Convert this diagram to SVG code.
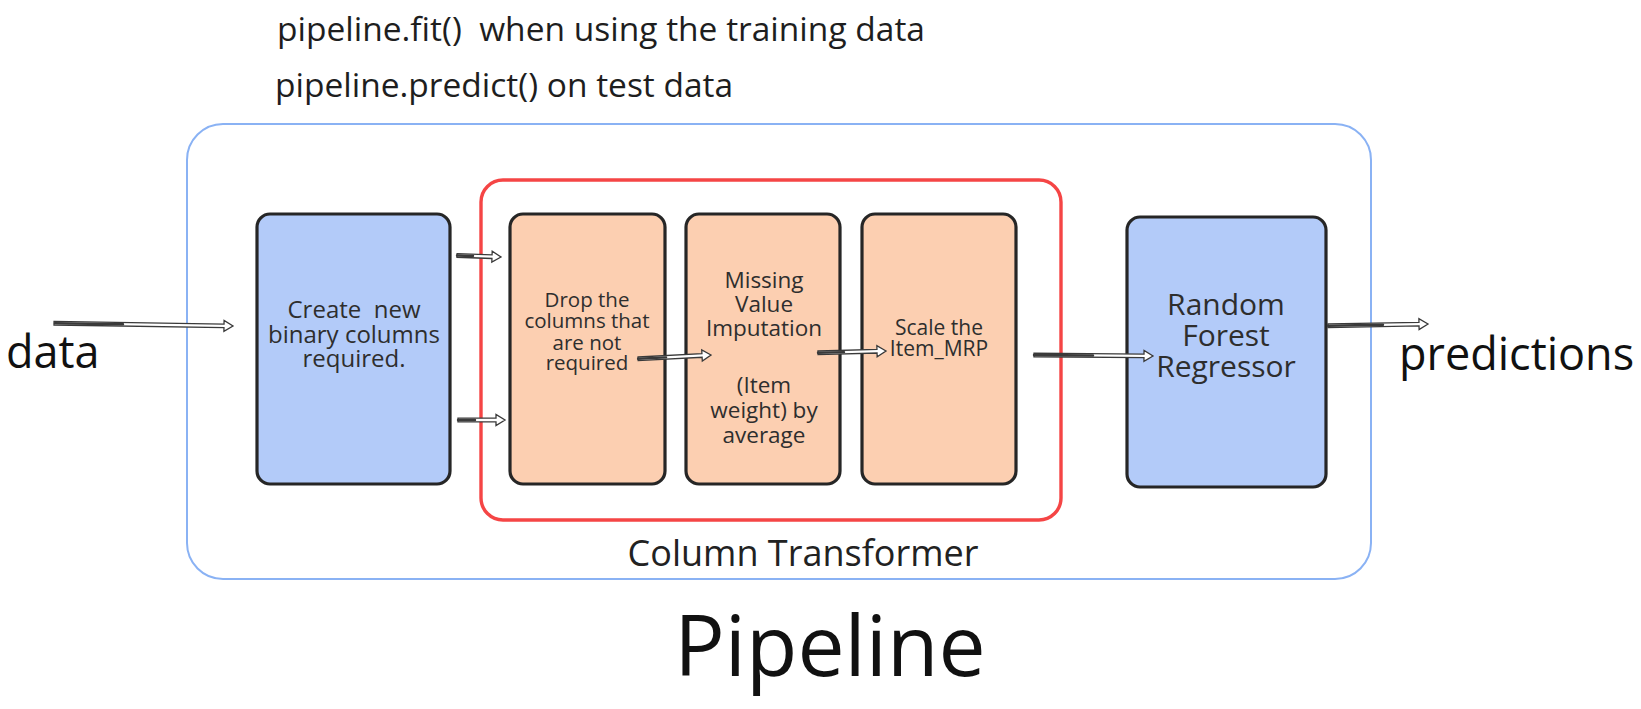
<svg xmlns="http://www.w3.org/2000/svg" width="1641" height="709" viewBox="0 0 1641 709">
  <style>
    text { font-family: "Open Sans", "Noto Sans", "Liberation Sans", sans-serif; white-space: pre; }
    .note { font-size: 33.5px; fill: #1e1e1e; }
    .io { font-size: 45px; fill: #111; }
    .box { stroke: #262626; stroke-width: 3.2; }
    .blue { fill: #b3cbf9; }
    .peach { fill: #fccfb1; }
    .lbl { fill: #2e2e2e; text-anchor: middle; }
    .arrow { fill: #fff; stroke: #3a3a3a; stroke-width: 1.3; stroke-linejoin: miter; }
    .tail { stroke: #3a3a3a; stroke-width: 2.4; stroke-linecap: round; }
  </style>

  <!-- headings -->
  <text class="note" x="277" y="41" xml:space="preserve">pipeline.fit()  when using the training data</text>
  <text class="note" x="275" y="97">pipeline.predict() on test data</text>

  <!-- outer pipeline frame -->
  <g id="pipeline-frame">
    <rect x="187" y="124" width="1184" height="455" rx="36" fill="none" stroke="#8ab2f4" stroke-width="2"/>
    <text x="830" y="676" font-size="84" fill="#111" text-anchor="middle">Pipeline</text>
  </g>

  <!-- column transformer frame -->
  <g id="column-transformer">
    <rect x="481" y="180" width="580" height="340" rx="22" fill="none" stroke="#f54545" stroke-width="3.4"/>
    <text x="803" y="566" font-size="36" fill="#222" text-anchor="middle">Column Transformer</text>
  </g>

  <g id="node-create">
    <rect class="box blue" x="257" y="214" width="193" height="270" rx="13"/>
    <text class="lbl" font-size="24" xml:space="preserve"><tspan x="354" y="318">Create  new</tspan><tspan x="354" y="343">binary columns</tspan><tspan x="354" y="367">required.</tspan></text>
  </g>

  <g id="node-drop">
    <rect class="box peach" x="510" y="214" width="155" height="270" rx="13"/>
    <text class="lbl" font-size="20.5"><tspan x="587" y="307">Drop the</tspan><tspan x="587" y="328">columns that</tspan><tspan x="587" y="350">are not</tspan><tspan x="587" y="370">required</tspan></text>
  </g>

  <g id="node-impute">
    <rect class="box peach" x="686" y="214" width="154" height="270" rx="13"/>
    <text class="lbl" font-size="22.5"><tspan x="764" y="288">Missing</tspan><tspan x="764" y="312">Value</tspan><tspan x="764" y="336">Imputation</tspan><tspan x="764" y="393">(Item</tspan><tspan x="764" y="418">weight) by</tspan><tspan x="764" y="443">average</tspan></text>
  </g>

  <g id="node-scale">
    <rect class="box peach" x="862" y="214" width="154" height="270" rx="13"/>
    <text class="lbl" font-size="21"><tspan x="939" y="335">Scale the</tspan><tspan x="939" y="356">Item_MRP</tspan></text>
  </g>

  <g id="node-forest">
    <rect class="box blue" x="1127" y="217" width="199" height="270" rx="13"/>
    <text class="lbl" font-size="30"><tspan x="1226" y="315">Random</tspan><tspan x="1226" y="346">Forest</tspan><tspan x="1226" y="377">Regressor</tspan></text>
  </g>

  <!-- outside labels -->
  <text class="io" x="6" y="368">data</text>
  <text class="io" x="1399" y="370">predictions</text>

  <!-- connectors: hollow double-line arrows, tip at each group's origin -->
  <g id="connectors">
    <!-- data -> create -->
    <g transform="translate(233 326) rotate(0.9)">
      <path class="arrow" d="M -179 -1.8 L -9 -1.8 L -9 -5.5 L 0 0 L -9 5.5 L -9 1.8 L -179 1.8 Z"/>
      <line class="tail" x1="-178" y1="0" x2="-110" y2="0"/>
    </g>
    <!-- create -> drop (upper) -->
    <g transform="translate(501 257) rotate(2)">
      <path class="arrow" d="M -44 -1.8 L -9 -1.8 L -9 -5.5 L 0 0 L -9 5.5 L -9 1.8 L -44 1.8 Z"/>
      <line class="tail" x1="-44" y1="0" x2="-28" y2="0"/>
    </g>
    <!-- create -> drop (lower) -->
    <g transform="translate(505 420)">
      <path class="arrow" d="M -47 -1.8 L -9 -1.8 L -9 -5.5 L 0 0 L -9 5.5 L -9 1.8 L -47 1.8 Z"/>
      <line class="tail" x1="-47" y1="0" x2="-30" y2="0"/>
    </g>
    <!-- drop -> impute -->
    <g transform="translate(711 355) rotate(-3)">
      <path class="arrow" d="M -73 -1.8 L -9 -1.8 L -9 -5.5 L 0 0 L -9 5.5 L -9 1.8 L -73 1.8 Z"/>
      <line class="tail" x1="-73" y1="0" x2="-45" y2="0"/>
    </g>
    <!-- impute -> scale -->
    <g transform="translate(886 351) rotate(-1.5)">
      <path class="arrow" d="M -68 -1.8 L -9 -1.8 L -9 -5.5 L 0 0 L -9 5.5 L -9 1.8 L -68 1.8 Z"/>
      <line class="tail" x1="-68" y1="0" x2="-42" y2="0"/>
    </g>
    <!-- scale -> forest -->
    <g transform="translate(1153 356) rotate(0.5)">
      <path class="arrow" d="M -119 -1.8 L -9 -1.8 L -9 -5.5 L 0 0 L -9 5.5 L -9 1.8 L -119 1.8 Z"/>
      <line class="tail" x1="-119" y1="0" x2="-60" y2="0"/>
    </g>
    <!-- forest -> predictions -->
    <g transform="translate(1428 324) rotate(-1)">
      <path class="arrow" d="M -100 -1.8 L -9 -1.8 L -9 -5.5 L 0 0 L -9 5.5 L -9 1.8 L -100 1.8 Z"/>
      <line class="tail" x1="-100" y1="0" x2="-45" y2="0"/>
    </g>
  </g>
</svg>
